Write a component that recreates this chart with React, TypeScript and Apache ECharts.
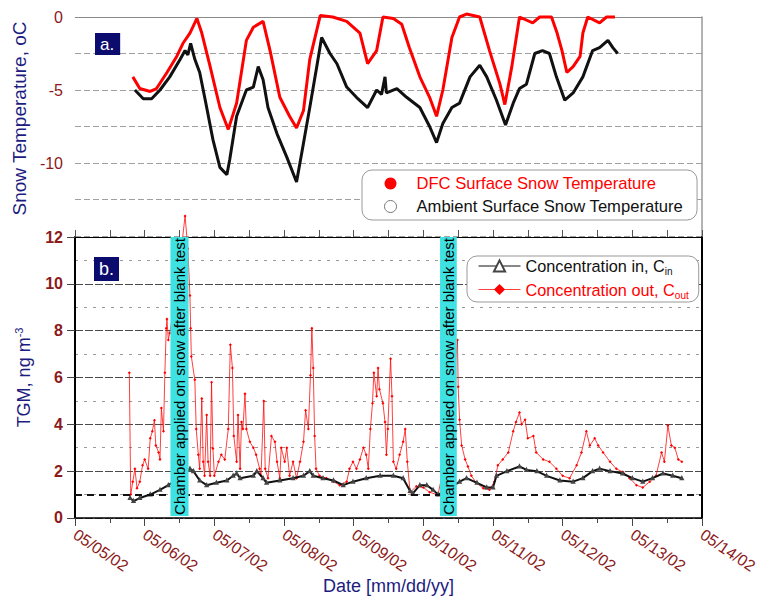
import React, { useEffect, useRef } from 'react';
import * as echarts from 'echarts';

// x values are days since 05/05/02 00:00
const dateLabels = ['05/05/02', '05/06/02', '05/07/02', '05/08/02', '05/09/02', '05/10/02', '05/11/02', '05/12/02', '05/13/02', '05/14/02'];

const tempTicks = [0, -5, -10];

const dfcTemp: [number, number][] = [
  [0.83, -4.1], [0.93, -4.9], [1.08, -5.1], [1.17, -4.9], [1.32, -3.8], [1.46, -2.7], [1.55, -1.8], [1.65, -1.1], [1.75, -0.1],
  [1.82, -1.1], [1.94, -3.4], [2.08, -6.2], [2.2, -7.7], [2.32, -5.9], [2.46, -1.6], [2.56, -0.7], [2.7, -0.3], [2.8, -2.3],
  [2.94, -5.5], [3.08, -6.8], [3.18, -7.6], [3.28, -6.4], [3.37, -2.9], [3.52, 0.1], [3.7, 0], [3.9, -0.3], [4.09, -1.1],
  [4.2, -3.2], [4.33, -2.3], [4.42, 0], [4.57, -0.1], [4.69, -0.5], [4.8, -2.1], [4.95, -4.1], [5.09, -5.5], [5.19, -6.8],
  [5.28, -5.0], [5.41, -1.4], [5.52, 0], [5.62, 0.2], [5.81, 0], [5.95, -2.3], [6.1, -4.6], [6.17, -6.0], [6.27, -3.4],
  [6.38, 0], [6.57, -0.4], [6.67, 0], [6.84, 0], [6.92, -1.1], [6.99, -2.3], [7.06, -3.8], [7.15, -3.4], [7.25, -2.7],
  [7.29, -1.1], [7.36, 0], [7.53, -0.4], [7.63, 0], [7.75, 0],
];

const ambientTemp: [number, number][] = [
  [0.86, -5.0], [0.98, -5.6], [1.1, -5.6], [1.22, -5.0], [1.36, -4.1], [1.51, -2.9], [1.58, -2.3], [1.62, -2.6], [1.66, -1.8],
  [1.72, -2.9], [1.79, -3.8], [1.87, -5.7], [1.98, -8.4], [2.08, -10.3], [2.18, -10.8], [2.22, -9.8], [2.32, -6.8], [2.46, -5.0],
  [2.56, -4.8], [2.63, -3.4], [2.7, -4.3], [2.77, -6.2], [2.9, -8.0], [3.04, -9.6], [3.18, -11.3], [3.27, -8.9], [3.37, -6.2],
  [3.47, -3.4], [3.54, -1.4], [3.66, -2.5], [3.76, -3.2], [3.9, -4.8], [4.04, -5.5], [4.2, -6.2], [4.33, -5.0], [4.4, -5.3],
  [4.45, -4.1], [4.47, -5.2], [4.62, -4.9], [4.76, -5.5], [4.95, -6.2], [5.09, -7.5], [5.19, -8.6], [5.28, -7.3], [5.41, -6.2],
  [5.52, -5.9], [5.67, -4.1], [5.81, -3.3], [5.91, -4.1], [6.05, -5.7], [6.18, -7.4], [6.29, -5.9], [6.38, -4.9], [6.48, -4.6],
  [6.6, -2.5], [6.71, -2.3], [6.81, -2.5], [6.91, -4.1], [7.03, -5.7], [7.15, -5.2], [7.29, -4.1], [7.43, -2.3], [7.53, -2.1],
  [7.65, -1.6], [7.72, -2.1], [7.79, -2.5],
];

const concIn: [number, number][] = [
  [0.79, 0.85], [0.84, 0.72], [0.93, 0.85], [1.08, 1.0], [1.22, 1.2], [1.34, 1.4], [1.5, 1.7], [1.65, 2.1], [1.7, 2.0],
  [1.79, 1.6], [1.89, 1.4], [2.03, 1.5], [2.18, 1.6], [2.27, 1.8], [2.32, 1.9], [2.37, 1.7], [2.56, 1.8], [2.61, 2.0],
  [2.7, 1.7], [2.75, 1.5], [2.94, 1.6], [3.13, 1.7], [3.28, 1.8], [3.37, 2.0], [3.42, 1.8], [3.56, 1.7], [3.71, 1.6],
  [3.85, 1.4], [3.99, 1.55], [4.18, 1.7], [4.38, 1.8], [4.57, 1.8], [4.71, 1.7], [4.81, 1.15], [4.85, 1.05], [4.95, 1.4],
  [5.05, 1.4], [5.14, 1.2], [5.21, 1.0], [5.35, 1.2], [5.52, 1.55], [5.62, 1.7], [5.77, 1.5], [5.91, 1.3], [6.0, 1.3],
  [6.05, 1.8], [6.2, 2.0], [6.38, 2.2], [6.48, 2.05], [6.63, 2.0], [6.77, 1.8], [6.96, 1.6], [7.15, 1.55], [7.29, 1.7],
  [7.43, 2.0], [7.53, 2.1], [7.68, 2.0], [7.86, 1.9], [8.0, 1.7], [8.15, 1.55], [8.29, 1.7], [8.44, 1.9], [8.58, 1.8], [8.71, 1.7],
];

const concOut: [number, number][] = [
  [0.78, 6.2], [0.8, 1.0], [0.83, 1.55], [0.86, 2.1], [0.89, 1.27], [0.93, 1.55], [0.97, 2.25], [1.0, 2.5], [1.05, 2.1],
  [1.08, 3.4], [1.11, 3.7], [1.14, 4.17], [1.16, 3.1], [1.2, 2.8], [1.22, 2.5], [1.24, 4.7], [1.27, 3.7], [1.29, 6.2],
  [1.31, 8.1], [1.32, 8.5], [1.34, 7.6], [1.36, 7.9], [1.45, 9.5], [1.58, 12.9], [1.62, 11.5], [1.65, 9.5], [1.66, 8.1],
  [1.67, 6.9], [1.72, 5.9], [1.74, 3.8], [1.77, 2.7], [1.79, 2.1], [1.82, 5.1], [1.84, 2.4], [1.86, 1.8], [1.89, 4.4],
  [1.91, 2.4], [1.94, 1.8], [1.96, 5.8], [1.98, 2.97], [2.0, 1.8], [2.06, 2.4], [2.1, 2.7], [2.15, 2.5], [2.2, 3.8],
  [2.23, 7.4], [2.26, 6.4], [2.28, 3.5], [2.32, 2.4], [2.34, 4.4], [2.37, 2.1], [2.39, 4.1], [2.41, 3.8], [2.44, 5.3],
  [2.46, 3.8], [2.51, 3.25], [2.56, 3.0], [2.6, 2.7], [2.65, 2.1], [2.67, 1.8], [2.71, 5.0], [2.73, 2.1], [2.77, 1.7],
  [2.82, 3.5], [2.87, 3.25], [2.9, 2.4], [2.94, 1.7], [2.96, 3.0], [3.01, 2.4], [3.04, 3.0], [3.08, 1.8], [3.13, 2.4],
  [3.18, 1.7], [3.23, 2.4], [3.28, 3.25], [3.31, 4.6], [3.35, 3.8], [3.38, 6.1], [3.4, 8.1], [3.42, 6.4], [3.44, 3.5],
  [3.46, 2.1], [3.51, 1.8], [3.61, 1.7], [3.71, 1.55], [3.8, 1.4], [3.9, 1.55], [3.94, 2.1], [3.99, 2.4], [4.04, 2.1],
  [4.09, 2.5], [4.14, 3.0], [4.18, 2.7], [4.21, 2.1], [4.24, 3.8], [4.27, 4.9], [4.29, 6.2], [4.33, 5.2], [4.35, 6.4],
  [4.37, 5.5], [4.42, 4.9], [4.45, 4.1], [4.47, 2.7], [4.49, 3.8], [4.53, 6.8], [4.55, 5.2], [4.57, 2.4], [4.61, 2.1],
  [4.66, 2.7], [4.71, 3.25], [4.74, 3.8], [4.77, 2.4], [4.81, 1.1], [4.9, 1.35], [5.0, 1.3], [5.09, 1.1], [5.21, 0.98],
  [5.35, 3.0], [5.49, 7.6], [5.5, 5.6], [5.52, 4.2], [5.55, 3.1], [5.6, 2.5], [5.64, 2.2], [5.69, 1.8], [5.76, 1.5],
  [5.86, 1.27], [5.95, 1.2], [6.02, 1.55], [6.07, 2.25], [6.14, 2.5], [6.22, 2.8], [6.29, 3.7], [6.33, 4.1], [6.38, 4.5],
  [6.41, 4.0], [6.46, 4.2], [6.5, 3.4], [6.58, 3.5], [6.62, 2.8], [6.72, 2.5], [6.81, 2.4], [6.91, 2.1], [7.0, 1.8],
  [7.1, 1.7], [7.2, 2.25], [7.27, 2.8], [7.34, 3.7], [7.39, 3.1], [7.46, 3.4], [7.51, 3.1], [7.58, 2.8], [7.68, 2.4],
  [7.77, 2.1], [7.87, 1.95], [7.96, 1.7], [8.06, 1.4], [8.15, 1.3], [8.25, 1.55], [8.34, 1.8], [8.42, 2.8], [8.46, 2.4],
  [8.51, 3.95], [8.56, 3.1], [8.61, 3.0], [8.66, 2.5], [8.71, 2.4],
];

// periods when the chamber was applied on snow after a blank test [start, end] in days
const blankTestSpans: [number, number][] = [[1.37, 1.63], [5.24, 5.48]];
const blankTestText = 'Chamber applied on snow after blank test';
const baselineLevel = 1;

const FONT = '"Liberation Sans", Arial, Helvetica, sans-serif';
const NAVY = '#1c1c80';
const TICK_RED = '#8b1a1a';

const S_DFC = 'DFC Surface Snow Temperature';
const S_AMB = 'Ambient Surface Snow Temperature';
const S_IN = 'Concentration in, Cin';
const S_OUT = 'Concentration out, Cout';

function buildOption(): echarts.EChartsCoreOption {
  return {
    animation: false,
    backgroundColor: '#ffffff',
    textStyle: { fontFamily: FONT },
    grid: [
      { left: 75, top: 17, width: 627, height: 219 },
      { left: 75, top: 237, width: 627, height: 283 },
    ],
    xAxis: [
      { gridIndex: 0, type: 'value', min: 0, max: 9, show: false },
      {
        gridIndex: 1, type: 'value', min: 0, max: 9, interval: 1, position: 'bottom',
        axisLine: { onZero: false, lineStyle: { color: '#000', width: 1.5 } },
        axisTick: { length: 8, lineStyle: { color: '#444' } },
        minorTick: { show: true, splitNumber: 2, length: 5, lineStyle: { color: '#444' } },
        splitLine: { show: false },
        axisLabel: {
          rotate: -34, color: TICK_RED, fontSize: 16, margin: 15, fontFamily: FONT,
          formatter: (v: number) => dateLabels[Math.round(v)] ?? '',
        },
        name: 'Date [mm/dd/yy]', nameLocation: 'middle', nameGap: 52,
        nameTextStyle: { color: NAVY, fontSize: 18, fontFamily: FONT },
      },
      {
        gridIndex: 1, type: 'value', min: 0, max: 9, interval: 0.5, position: 'top',
        axisLine: { show: true, onZero: false, lineStyle: { color: '#000', width: 1 } },
        axisTick: { show: true, length: 7, lineStyle: { color: '#555' } },
        axisLabel: { show: false }, splitLine: { show: false },
      },
    ],
    yAxis: [
      {
        gridIndex: 0, type: 'value', min: -15, max: 0, interval: 2.5,
        axisLine: { show: false, onZero: false }, axisTick: { show: false },
        splitLine: { show: true, lineStyle: { color: '#a0a0a0', type: [6, 3], width: 1 } },
        axisLabel: {
          color: TICK_RED, fontSize: 16, margin: 12, fontFamily: FONT,
          formatter: (v: number) => (tempTicks.includes(v) ? String(v) : ''),
        },
        name: 'Snow Temperature, oC', nameLocation: 'middle', nameGap: 40,
        nameTextStyle: { color: NAVY, fontSize: 19, fontFamily: FONT, padding: [0, 0, 0, 16] },
      },
      {
        gridIndex: 0, type: 'value', min: -15, max: 0, position: 'right',
        axisLine: { show: true, onZero: false, lineStyle: { color: '#9a9a9a', width: 1.5 } },
        axisTick: { show: false }, axisLabel: { show: false }, splitLine: { show: false },
      },
      {
        gridIndex: 1, type: 'value', min: 0, max: 12, interval: 2,
        axisLine: { show: true, onZero: false, lineStyle: { color: '#000', width: 2 } },
        axisTick: { show: true, length: 8, lineStyle: { color: '#444' } },
        splitLine: { show: true, lineStyle: { color: '#4a4a4a', type: [8, 2], width: 1 } },
        axisLabel: { color: TICK_RED, fontSize: 16, fontWeight: 'bold', margin: 12, fontFamily: FONT },
        name: '{a|TGM, ng m}{b|-3}', nameLocation: 'middle', nameGap: 40,
        nameTextStyle: {
          color: NAVY, fontFamily: FONT,
          rich: {
            a: { fontSize: 18, color: NAVY, lineHeight: 22, fontFamily: FONT },
            b: { fontSize: 11, color: NAVY, lineHeight: 11, verticalAlign: 'top', fontFamily: FONT },
          },
        },
      },
      {
        gridIndex: 1, type: 'value', min: 0, max: 12, interval: 1, position: 'right',
        axisLine: { show: true, onZero: false, lineStyle: { color: '#000', width: 2 } },
        axisTick: { show: false }, axisLabel: { show: false },
        splitLine: { show: true, lineStyle: { color: ['rgba(0,0,0,0)', '#9a9a9a'], type: [3, 6], width: 1 } },
      },
    ],
    legend: [
      {
        left: 362, top: 170, orient: 'vertical', selectedMode: false,
        data: [
          { name: S_DFC, icon: 'circle', itemStyle: { color: '#ff0000', borderWidth: 0 }, textStyle: { color: '#ff0000' } },
          { name: S_AMB, icon: 'circle', itemStyle: { color: '#ffffff', borderColor: '#777', borderWidth: 1 }, textStyle: { color: '#111' } },
        ],
        itemWidth: 42, itemHeight: 12, itemGap: 6,
        padding: [5, 14, 5, 22],
        borderColor: '#999', borderWidth: 1, borderRadius: 10, backgroundColor: '#fff',
        textStyle: { fontSize: 16.6, lineHeight: 16, fontFamily: FONT },
      },
      {
        left: 467, top: 256, orient: 'vertical', selectedMode: false,
        data: [S_IN, S_OUT],
        itemWidth: 42, itemHeight: 14, itemGap: 5,
        lineStyle: { width: 1 },
        padding: [2, 10, 2, 11],
        borderColor: '#999', borderWidth: 1, borderRadius: 10, backgroundColor: '#fff',
        formatter: (name: string) => (name === S_IN ? '{a|Concentration in, C}{s|in}' : '{r|Concentration out, C}{rs|out}'),
        textStyle: {
          fontFamily: FONT,
          rich: {
            a: { fontSize: 16.3, color: '#111', lineHeight: 21, fontFamily: FONT },
            s: { fontSize: 10, color: '#111', lineHeight: 10, verticalAlign: 'bottom', fontFamily: FONT },
            r: { fontSize: 16.3, color: '#ff0000', lineHeight: 21, fontFamily: FONT },
            rs: { fontSize: 10, color: '#ff0000', lineHeight: 10, verticalAlign: 'bottom', fontFamily: FONT },
          },
        },
      },
    ],
    graphic: [
      {
        type: 'text', x: 95, y: 33, z: 20,
        style: { text: 'a.', fill: '#fff', backgroundColor: '#0c0c6e', padding: [3, 6, 2, 5], fontSize: 17, fontFamily: FONT },
      },
      {
        type: 'text', x: 94, y: 257, z: 20,
        style: { text: 'b.', fill: '#fff', backgroundColor: '#0c0c6e', padding: [3, 5, 3, 5], fontSize: 18, fontFamily: FONT },
      },
    ],
    series: [
      {
        name: S_DFC, type: 'line', xAxisIndex: 0, yAxisIndex: 0, data: dfcTemp, symbol: 'none', clip: false,
        lineStyle: { color: '#ff0000', width: 3 }, itemStyle: { color: '#ff0000' }, z: 3,
        markLine: {
          silent: true, symbol: 'none', label: { show: false }, z: 1,
          lineStyle: { color: '#8a8a8a', type: 'solid', width: 1 },
          data: [{ yAxis: 0 }],
        },
      },
      {
        name: S_AMB, type: 'line', xAxisIndex: 0, yAxisIndex: 0, data: ambientTemp, symbol: 'none',
        lineStyle: { color: '#111', width: 3 }, itemStyle: { color: '#111' }, z: 3,
      },
      {
        name: S_IN, type: 'line', xAxisIndex: 1, yAxisIndex: 2, data: concIn,
        symbol: 'emptyTriangle', symbolSize: 2, showSymbol: true,
        lineStyle: { color: '#111', width: 2 }, itemStyle: { color: '#444' }, z: 4,
        markLine: {
          silent: true, symbol: 'none', label: { show: false },
          lineStyle: { color: '#111', type: [7, 5], width: 2 },
          data: [{ yAxis: baselineLevel }],
        },
      },
      {
        name: S_OUT, type: 'line', xAxisIndex: 1, yAxisIndex: 2, data: concOut, clip: false,
        symbol: 'diamond', symbolSize: 3, showSymbol: true,
        lineStyle: { color: 'rgba(255,0,0,0.75)', width: 1 }, itemStyle: { color: '#ff0000' }, z: 3,
      },
      {
        name: 'blank', type: 'line', xAxisIndex: 1, yAxisIndex: 2, data: [], z: 50,
        markArea: {
          silent: true, z: 50,
          itemStyle: { color: '#3ee2e2', opacity: 1 },
          label: { show: true, position: 'inside', rotate: 90, color: '#000', fontSize: 15, fontFamily: FONT },
          data: blankTestSpans.map(([a, b]) => [
            { name: blankTestText, xAxis: a, yAxis: 0.08 },
            { xAxis: b, yAxis: 12 },
          ]),
        },
      },
    ],
  };
}

export default function App() {
  const ref = useRef<HTMLDivElement>(null);
  useEffect(() => {
    document.body.style.margin = '0';
    const chart = echarts.init(ref.current!, null, { renderer: 'svg' });
    chart.setOption(buildOption());
    return () => chart.dispose();
  }, []);
  return <div ref={ref} style={{ width: 762, height: 596 }} />;
}
